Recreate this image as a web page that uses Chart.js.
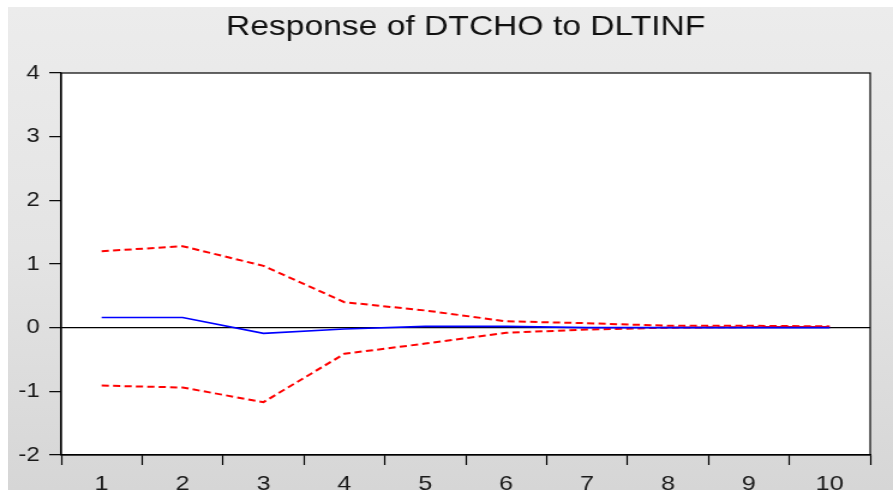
<!DOCTYPE html>
<html>
<head>
<meta charset="utf-8">
<script src="https://cdn.jsdelivr.net/npm/chart.js@4.4.0/dist/chart.umd.min.js"></script>
<style>
  html, body { margin: 0; padding: 0; background: #ffffff; width: 893px; height: 490px; overflow: hidden; }
  #bg { position: absolute; left: 8px; top: 7px; width: 885px; height: 483px;
        background: linear-gradient(to bottom, #ececec 0%, #e4e4e4 50%, #d6d6d6 100%); }
  #c { position: absolute; left: 0; top: 0; }
</style>
</head>
<body>
<div id="bg"></div>
<canvas id="c" width="744" height="490" style="width:893px;height:490px"></canvas>
<script>
// ---- data ----
const periods = ['1', '2', '3', '4', '5', '6', '7', '8', '9', '10'];
const response = [0.16, 0.16, -0.09, -0.02, 0.02, 0.02, 0.00, 0.00, 0.00, 0.00];
const upperBand = [1.20, 1.28, 0.97, 0.40, 0.27, 0.10, 0.07, 0.03, 0.03, 0.02];
const lowerBand = [-0.91, -0.94, -1.17, -0.41, -0.25, -0.08, -0.03, 0.00, 0.01, 0.01];
const yTicks = [-2, -1, 0, 1, 2, 3, 4];
const titleText = 'Response of DTCHO to DLTINF';

const FONT = '"Liberation Sans", Arial, sans-serif';

const plotFrame = {
  id: 'plotFrame',
  beforeDraw(chart) {
    const { ctx, chartArea: a } = chart;
    ctx.save();
    ctx.fillStyle = '#ffffff';
    ctx.fillRect(a.left, a.top, a.right - a.left, a.bottom - a.top);
    ctx.restore();
  },
  afterDraw(chart) {
    const { ctx, chartArea: a } = chart;
    ctx.save();
    ctx.strokeStyle = '#000000';
    ctx.lineWidth = 1.2;
    ctx.strokeRect(a.left, a.top, a.right - a.left, a.bottom - a.top);
    ctx.restore();
  }
};

const canvas = document.getElementById('c');
new Chart(canvas, {
  type: 'line',
  data: {
    labels: periods,
    datasets: [
      { label: 'Response', data: response, borderColor: '#0000ff', borderWidth: 1.6,
        pointRadius: 0, tension: 0, fill: false, order: 1 },
      { label: 'Upper', data: upperBand, borderColor: '#ff0000', borderWidth: 2,
        borderDash: [6, 3.5], pointRadius: 0, tension: 0, fill: false, order: 2 },
      { label: 'Lower', data: lowerBand, borderColor: '#ff0000', borderWidth: 2,
        borderDash: [6, 3.5], pointRadius: 0, tension: 0, fill: false, order: 2 }
    ]
  },
  options: {
    responsive: false,
    animation: false,
    devicePixelRatio: 1,
    layout: { padding: { left: 0, right: 19, top: 0, bottom: 0 } },
    plugins: {
      legend: { display: false },
      tooltip: { enabled: false },
      title: {
        display: true,
        fullSize: false,
        text: titleText,
        color: '#111111',
        font: { family: FONT, size: 28, weight: 'normal' },
        padding: { top: 10, bottom: 29.4 }
      }
    },
    scales: {
      x: {
        type: 'category',
        offset: true,
        grid: { display: true, drawOnChartArea: false, drawTicks: true, offset: true,
                tickLength: 10, tickColor: '#000000', tickWidth: 1.2 },
        border: { display: true, color: '#000000', width: 1.2 },
        ticks: { color: '#1a1a1a', font: { family: FONT, size: 21 }, padding: 7,
                 maxRotation: 0, autoSkip: false },
        afterFit(scale) { scale.height = 35; }
      },
      y: {
        min: -2, max: 4,
        afterBuildTicks(scale) { scale.ticks = yTicks.map(v => ({ value: v })); },
        grid: {
          display: true, drawOnChartArea: true, drawTicks: true, tickLength: 10,
          tickColor: '#000000', tickWidth: 1.2,
          color: ctx => (ctx.tick && ctx.tick.value === 0) ? '#000000' : 'rgba(0,0,0,0)',
          lineWidth: 1.3
        },
        border: { display: true, color: '#000000', width: 1.2 },
        ticks: { color: '#1a1a1a', font: { family: FONT, size: 20 }, padding: 8 },
        afterFit(scale) { scale.width = 51; }
      }
    }
  },
  plugins: [plotFrame]
});
canvas.style.width = '893px';
canvas.style.height = '490px';
</script>
</body>
</html>
